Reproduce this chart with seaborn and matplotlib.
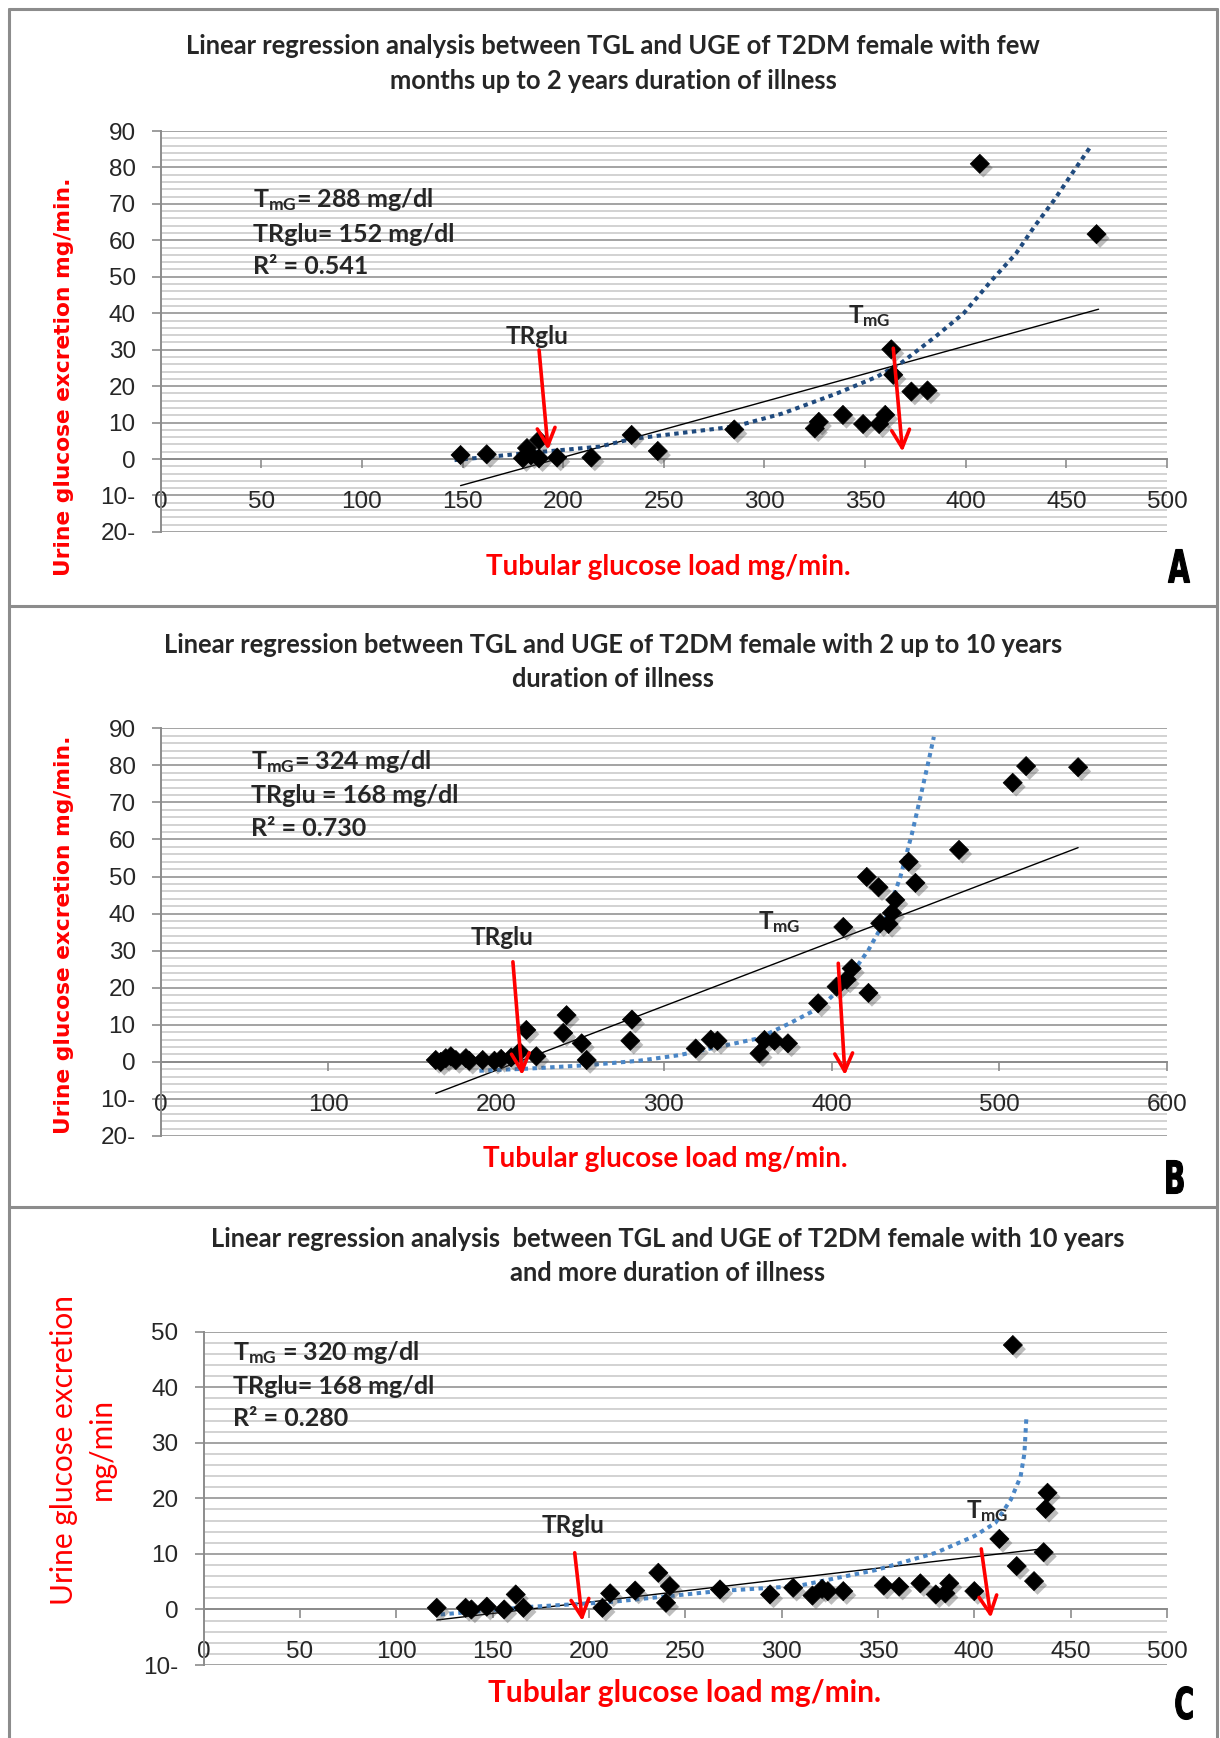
import matplotlib
matplotlib.use("Agg")
import matplotlib.pyplot as plt
import matplotlib.patheffects as pe
from matplotlib.ticker import MultipleLocator
from matplotlib.lines import Line2D
from matplotlib.textpath import TextPath
from matplotlib.patches import PathPatch
from matplotlib.font_manager import FontProperties
from matplotlib.transforms import Affine2D, IdentityTransform
import seaborn as sns

# ---- panel A : few months up to 2 years ----
tgl_a = [149, 162, 180, 182, 184, 188, 188, 197, 214, 234, 247, 285, 325, 327,
         339, 349, 357, 360, 363, 364, 373, 381, 407, 465]
uge_a = [1.1, 1.3, 0.2, 3.0, 1.0, 5.2, 0.2, 0.4, 0.4, 6.6, 2.2, 8.1, 8.4, 10.2,
         12.1, 9.6, 9.6, 12.1, 30.1, 23.1, 18.5, 18.8, 81.0, 61.7]
lin_a_x = [149, 466]
lin_a_y = [-7.3, 41.1]
curve_a_x = [146, 180, 218, 234, 285, 309, 336, 356, 368, 385, 399, 413, 425, 434, 444, 454, 462]
curve_a_y = [-0.3, 1.5, 3.4, 5.5, 8.9, 12.5, 18.0, 22.6, 26.4, 33.6, 40.0, 49.1, 56.4, 63.7, 71.1, 79.3, 85.7]

# ---- panel B : 2 up to 10 years ----
tgl_b = [164, 167, 170, 173, 176, 182, 184, 192, 199, 203, 209, 214, 218, 224,
         240, 242, 251, 254, 281, 280, 319, 328, 332, 357, 360, 366, 374, 392,
         403, 409, 412, 422, 407, 421, 428, 429, 434, 436, 438, 446, 450, 476,
         508, 516, 547]
uge_b = [0.5, 0.0, 1.0, 1.5, 0.5, 1.0, 0.3, 0.5, 0.3, 0.8, 1.2, 2.7, 8.6, 1.5,
         7.8, 12.6, 5.0, 0.5, 11.4, 5.7, 3.6, 6.0, 5.7, 2.3, 5.9, 5.7, 5.0, 15.8,
         20.3, 22.2, 25.2, 18.6, 36.4, 49.9, 47.1, 37.4, 37.2, 40.2, 43.7, 54.0, 48.3, 57.2,
         75.3, 79.8, 79.5]
lin_b_x = [164, 547]
lin_b_y = [-8.5, 57.8]
curve_b_x = [190, 220, 254, 285, 309, 333, 356, 375, 394, 408, 422, 432, 441, 448, 453, 458, 461]
curve_b_y = [-2.4, -1.8, -0.9, 0.3, 1.8, 4.1, 6.3, 10.4, 14.9, 21.2, 30.2, 38.3, 49.9, 61.7, 71.5, 81.5, 87.7]

# ---- panel C : 10 years and more ----
tgl_c = [121, 136, 139, 147, 156, 162, 166, 207, 211, 224, 236, 242, 240, 268,
         294, 306, 316, 321, 324, 332, 353, 361, 372, 380, 385, 387, 400, 413,
         422, 431, 436, 437, 438, 420]
uge_c = [0.3, 0.3, 0.0, 0.5, 0.0, 2.7, 0.3, 0.3, 2.9, 3.4, 6.6, 4.2, 1.2, 3.6,
         2.7, 3.9, 2.5, 3.7, 3.3, 3.3, 4.3, 4.1, 4.7, 2.7, 2.9, 4.7, 3.3, 12.7,
         7.8, 5.1, 10.3, 18.1, 21.0, 47.6]
lin_c_x = [121, 435]
lin_c_y = [-1.9, 10.9]
curve_c_x = [123, 171, 210, 250, 267, 308, 349, 380, 400, 411, 419, 424, 426, 427]
curve_c_y = [-0.9, 0.5, 1.3, 2.7, 3.3, 4.2, 7.1, 10.2, 13.2, 15.6, 19.8, 23.9, 28.1, 34.4]

titles = [
    ["Linear regression analysis between TGL and UGE of T2DM female with few",
     "months up to 2 years duration of illness"],
    ["Linear regression between TGL and UGE of T2DM female with 2 up to 10 years",
     "duration of illness"],
    ["Linear regression analysis  between TGL and UGE of T2DM female with 10 years",
     "and more duration of illness"],
]
stats = [
    [r"$\mathbf{T_{mG}}$= 288 mg/dl", "TRglu= 152 mg/dl", "R² = 0.541"],
    [r"$\mathbf{T_{mG}}$= 324 mg/dl", "TRglu = 168 mg/dl", "R² = 0.730"],
    [r"$\mathbf{T_{mG}}$ = 320 mg/dl", "TRglu= 168 mg/dl", "R² = 0.280"],
]
# arrows: (start, end) in data units, label position
trglu_arrows = [((188, 29.9), (192.5, 2.5), (187, 33.5)),
                ((210, 27.0), (215.5, -3.6), (203.5, 33.5)),
                ((192.6, 10.2), (196.6, -2.1), (191.6, 15.2))]
tmg_arrows = [((364, 30.4), (368.6, 2.0), (352, 39.2)),
              ((404, 26.6), (408, -3.6), (369, 37.8)),
              ((403.6, 10.9), (408.6, -1.5), (406.7, 17.8))]

sns.set_style("white")
plt.rcParams['font.family'] = ['Lato', 'DejaVu Sans']
plt.rcParams['mathtext.fontset'] = 'custom'
plt.rcParams['mathtext.rm'] = 'Lato'
plt.rcParams['mathtext.bf'] = 'Lato:bold'

W, H = 1220, 1738
fig = plt.figure(figsize=(W / 100, H / 100), dpi=100)
fig.patch.set_facecolor('white')


def px_axes(x0, x1, ytop, ybot):
    return fig.add_axes([x0 / W, 1 - ybot / H, (x1 - x0) / W, (ybot - ytop) / H])


def fline(x0, y0, x1, y1):
    fig.add_artist(Line2D([x0 / W, x1 / W], [1 - y0 / H, 1 - y1 / H],
                          transform=fig.transFigure, color='#8c8c8c', lw=2.2))


def narrow_letter(ch, xc, yc, height_px, squeeze):
    # condensed bold letter drawn as a path, placed in pixel coords
    tp = TextPath((0, 0), ch, size=100, prop=FontProperties(family='DejaVu Sans', weight='bold'))
    bb = tp.get_extents()
    k = height_px / bb.height
    tr = (Affine2D().translate(-(bb.x0 + bb.x1) / 2, -(bb.y0 + bb.y1) / 2)
          .scale(k * squeeze, k).translate(xc, H - yc))
    fig.add_artist(PathPatch(tr.transform_path(tp), transform=IdentityTransform(),
                             facecolor='black', edgecolor='black', lw=0.8))


def draw_panel(ax, xs, ys, lx, ly, cx, cy, ccol, xmax, xstep, ymin, ymax,
               lines, stat_xy, arrows):
    ax.set_xlim(0, xmax)
    ax.set_ylim(ymin, ymax)
    ax.yaxis.set_minor_locator(MultipleLocator(2))
    ax.xaxis.set_major_locator(MultipleLocator(xstep))
    yt = list(range(ymin, ymax + 1, 10))
    ax.set_yticks(yt)
    ax.set_yticklabels([f"{abs(v)}-" if v < 0 else str(v) for v in yt])
    ax.grid(which='major', axis='y', color='#a3a3a3', lw=1.4)
    ax.grid(which='minor', axis='y', color='#cbcbcb', lw=1.2)
    ax.grid(which='major', axis='x', visible=False)
    ax.yaxis.set_zorder(0.5)
    ax.xaxis.set_zorder(1.0)
    for s in ['top', 'right']:
        ax.spines[s].set_visible(False)
    ax.spines['left'].set_color('#8c8c8c')
    ax.spines['left'].set_linewidth(1.4)
    ax.spines['bottom'].set_position(('data', 0))
    ax.spines['bottom'].set_color('#8c8c8c')
    ax.spines['bottom'].set_linewidth(1.4)
    ax.tick_params(axis='y', which='major', direction='out', length=6.5, width=1.2,
                   color='#8c8c8c', pad=11.5, left=True, labelsize=17.5)
    ax.tick_params(axis='y', which='minor', length=0)
    ax.tick_params(axis='x', which='major', direction='out', length=6.5, width=1.2,
                   color='#8c8c8c', pad=16.5, bottom=True, labelsize=17.5)
    for lab in ax.get_xticklabels() + ax.get_yticklabels():
        lab.set_fontfamily('Liberation Sans')
    ax.set_xlabel('')
    ax.set_ylabel('')

    ax.plot(lx, ly, color='black', lw=1.0, zorder=3)
    ax.plot(cx, cy, color=ccol, lw=2.9, linestyle=(0, (1.1, 1.1)),
            dash_capstyle='butt', zorder=3, clip_on=False)
    sns.scatterplot(x=xs, y=ys, marker='D', s=95, color='black', edgecolor='black',
                    linewidth=0.5, ax=ax, zorder=4, legend=False)
    sc = ax.collections[-1]
    sc.set_path_effects([pe.SimplePatchShadow(offset=(2.5, -3), shadow_rgbFace='#444444',
                                              alpha=0.35), pe.Normal()])

    sx, sy = stat_xy
    for txt, yy in zip(lines, sy):
        ax.text(sx, yy, txt, fontsize=18, fontweight='bold', ha='left', va='center',
                zorder=5)

    (tr, tm) = arrows
    for (st, en, lab), txt in [(tr, 'TRglu'), (tm, r'$\mathbf{T_{mG}}$')]:
        ax.annotate('', xy=en, xytext=st,
                    arrowprops=dict(arrowstyle='->', color='red', lw=2.6,
                                    mutation_scale=32, shrinkA=0, shrinkB=0),
                    zorder=6)
        ax.text(lab[0], lab[1], txt, fontsize=17.5, fontweight='bold',
                ha='center', va='center', zorder=6)


# panel frames
fline(8.5, 8.5, 1216.5, 8.5)
fline(8.5, 8.5, 8.5, 1738)
fline(1216.5, 8.5, 1216.5, 1738)
fline(8.5, 605.5, 1216.5, 605.5)
fline(8.5, 1207, 1216.5, 1207)

ax_a = px_axes(160.7, 1167, 131, 531.9)
draw_panel(ax_a, tgl_a, uge_a, lin_a_x, lin_a_y, curve_a_x, curve_a_y, '#1f4a7e',
           500, 50, -20, 90, stats[0], (46, [71.1, 61.5, 52.8]),
           (trglu_arrows[0], tmg_arrows[0]))

ax_b = px_axes(160.7, 1167, 728.3, 1136)
draw_panel(ax_b, tgl_b, uge_b, lin_b_x, lin_b_y, curve_b_x, curve_b_y, '#4a86c6',
           600, 100, -20, 90, stats[1], (54, [81.0, 72.0, 63.0]),
           (trglu_arrows[1], tmg_arrows[1]))

ax_c = px_axes(203.6, 1167, 1331.7, 1665)
draw_panel(ax_c, tgl_c, uge_c, lin_c_x, lin_c_y, curve_c_x, curve_c_y, '#4a86c6',
           500, 50, -10, 50, stats[2], (15.5, [46.2, 40.1, 34.3]),
           (trglu_arrows[2], tmg_arrows[2]))

# titles
for (t1, t2), cxp, ys in zip(titles, [613, 613, 668], [(46.5, 81), (645, 679), (1239, 1273)]):
    fig.text(cxp / W, 1 - ys[0] / H, t1, fontsize=18.4, fontweight='bold',
             ha='center', va='center')
    fig.text(cxp / W, 1 - ys[1] / H, t2, fontsize=18.4, fontweight='bold',
             ha='center', va='center')

# axis titles
for yc in [377, 935]:
    fig.text(64 / W, 1 - yc / H, 'Urine glucose excretion mg/min.', rotation=90,
             color='red', fontsize=15.7, fontfamily='DejaVu Sans', fontweight='bold',
             ha='center', va='center')
fig.text(64 / W, 1 - 1450 / H, 'Urine glucose excretion', rotation=90, color='red',
         fontsize=21.5, ha='center', va='center')
fig.text(102 / W, 1 - 1449 / H, 'mg/min', rotation=90, color='red',
         fontsize=21.5, ha='center', va='center')

for xc, yc, fs in [(668, 567, 20), (665, 1159, 20), (685, 1693, 21.5)]:
    fig.text(xc / W, 1 - yc / H, 'Tubular glucose load mg/min.', color='red',
             fontsize=fs, fontweight='bold', ha='center', va='center')

for lab, xc, yc in [('A', 1179, 566), ('B', 1175, 1177), ('C', 1184, 1703)]:
    narrow_letter(lab, xc, yc, 33, 0.62)

fig.savefig('out.png', dpi=100, facecolor='white')
